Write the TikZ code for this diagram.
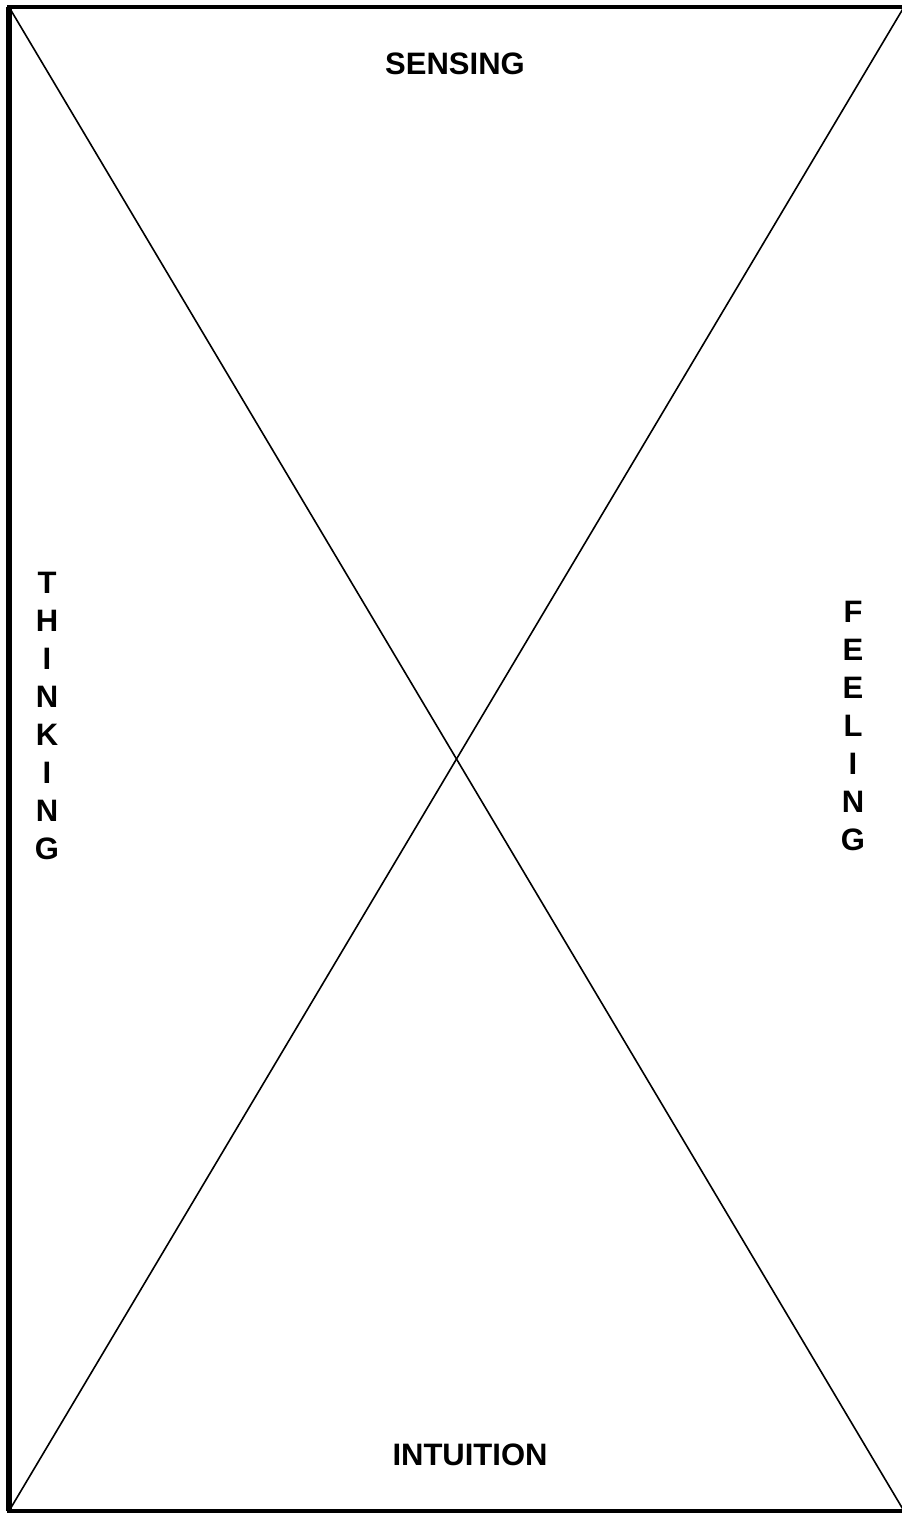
\documentclass[tikz,border=0pt]{standalone}
\usepackage{fontspec}
\setmainfont{Liberation Sans}
\usepackage{tikz}

\begin{document}
\begin{tikzpicture}[x=1pt, y=-1pt,
  every node/.style={inner sep=0pt, align=center,
                     font=\fontsize{31}{38}\selectfont\bfseries},
  diag/.style={line width=1.6pt, line cap=round}
]
  \useasboundingbox (0,0) rectangle (902,1513);

  \coordinate (tl) at (9,   7);
  \coordinate (tr) at (904, 7);
  \coordinate (bl) at (9,   1511);
  \coordinate (br) at (904, 1511);

  \draw[line width=3.8pt] (tl) rectangle (br);
  \draw[line width=5.5pt] (tl) -- (bl);

  \draw[diag] (tl) -- (br);
  \draw[diag] (bl) -- (tr);

  \node (sens)  at (455, 64)   {SENSING};
  \node (intu)  at (470, 1455) {INTUITION};
  \node (think) at (47,  716)  {T\\H\\I\\N\\K\\I\\N\\G};
  \node (feel)  at (853, 726)  {F\\E\\E\\L\\I\\N\\G};
\end{tikzpicture}
\end{document}
